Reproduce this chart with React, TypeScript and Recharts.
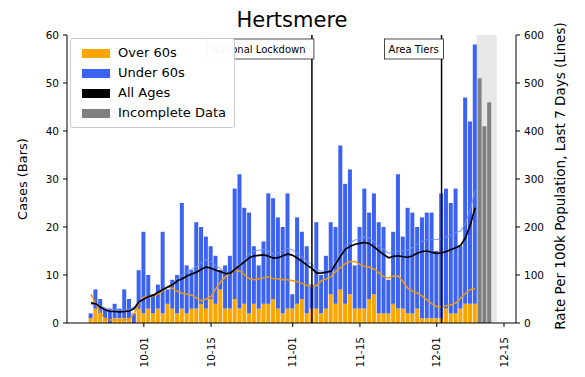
import React from 'react';
import {
  ComposedChart, Bar, Line, XAxis, YAxis, ReferenceLine, ReferenceArea, Legend, Customized,
} from 'recharts';

// Day offsets are counted from 1 October (day 0).
const FIRST_DAY = -11;

const over60Cases = [
  1, 3, 2, 1, 0, 1, 1, 1, 1, 0, 3,
  2, 3, 2, 3, 2, 4, 3, 2, 3, 2,
  3, 3, 4, 3, 5, 4, 7, 3, 3, 5,
  3, 4, 2, 4, 3, 4, 4, 5, 3, 2,
  3, 3, 4, 5, 2, 3, 3, 2, 3, 6,
  4, 7, 4, 6, 3, 3, 3, 5, 6, 2,
  2, 2, 4, 3, 3, 2, 2, 3, 1, 1,
  1, 1, 1, 3, 2, 2, 3, 4, 4, 4,
];

const under60Cases = [
  1, 4, 3, 2, 3, 3, 2, 6, 4, 2, 8,
  17, 7, 4, 5, 17, 3, 6, 8, 22, 10,
  8, 18, 16, 15, 11, 10, 4, 9, 11, 23,
  28, 20, 21, 12, 9, 13, 23, 21, 19, 18,
  24, 3, 18, 14, 14, 5, 18, 8, 11, 15,
  16, 30, 25, 26, 9, 17, 25, 18, 21, 19,
  18, 7, 15, 28, 15, 22, 21, 17, 21, 22,
  22, 14, 26, 25, 23, 26, 13, 43, 38, 54,
];

const incompleteCases = [51, 41, 46];

const rateAllAges = [
  42, 40, 33, 27, 24, 24, 23, 24, 25, 30, 44,
  50, 55, 58, 64, 70, 75, 80, 88, 92, 98,
  102, 106, 112, 117, 114, 110, 107, 103, 104, 112,
  120, 128, 136, 140, 141, 142, 139, 135, 136, 140,
  144, 141, 135, 128, 120, 114, 104, 104, 106, 108,
  124, 140, 154, 160, 164, 166, 168, 165, 158, 150,
  142, 136, 139, 140, 138, 137, 140, 146, 149, 150,
  147, 145, 146, 149, 153, 157, 162, 178, 205, 240,
];

const rateOver60 = [
  60, 40, 20, 8, 6, 6, 6, 6, 8, 20, 42,
  54, 55, 56, 60, 68, 76, 72, 66, 62, 60,
  58, 52, 46, 50, 55, 72, 86, 96, 104, 110,
  108, 100, 92, 90, 92, 94, 96, 92, 92, 90,
  90, 88, 86, 82, 78, 76, 78, 88, 92, 96,
  108, 116, 124, 128, 128, 122, 118, 116, 112, 104,
  96, 94, 98, 98, 86, 72, 66, 62, 56, 48,
  40, 34, 34, 36, 38, 42, 52, 62, 70, 72,
];

const rateUnder60 = [
  38, 40, 36, 31, 28, 28, 27, 28, 29, 33, 45,
  50, 55, 58, 65, 70, 75, 82, 93, 100, 107,
  112, 118, 126, 132, 128, 120, 113, 104, 104, 112,
  123, 134, 145, 150, 152, 153, 149, 144, 146, 151,
  156, 152, 145, 137, 128, 122, 110, 108, 109, 111,
  128, 146, 162, 168, 173, 176, 180, 177, 169, 161,
  153, 145, 148, 150, 150, 152, 157, 165, 170, 174,
  174, 174, 175, 179, 184, 188, 192, 208, 238, 276,
];

const tickDays = [0, 14, 31, 45, 61, 75];
const tickLabels = ['10-01', '10-15', '11-01', '11-15', '12-01', '12-15'];

const eventDays = [35, 62];
const eventLabels = ['National Lockdown', 'Area Tiers'];
const eventBoxWidths = [107, 59];

const incompleteSpan = [69.3, 73.5];

const leftTicks = [0, 10, 20, 30, 40, 50, 60];
const rightTicks = [0, 100, 200, 300, 400, 500, 600];

const legendLabels = ['Over 60s', 'Under 60s', 'All Ages', 'Incomplete Data'];
const legendColors = ['#ffa500', '#3b62f2', '#000000', '#808080'];

const COLORS = {
  over: '#ffa500',
  under: '#3b62f2',
  gray: '#808080',
  lineAll: '#000000',
  lineOver: '#eb9a12',
  lineUnder: '#6f8cff',
};

const FONT = 'DejaVu Sans';

const data: any[] = [];
for (let i = 0; i < over60Cases.length; i++) {
  data.push({
    day: FIRST_DAY + i,
    over60: over60Cases[i],
    under60: under60Cases[i],
    rateAll: rateAllAges[i],
    rateOver: rateOver60[i],
    rateUnder: rateUnder60[i],
  });
}
for (let j = 0; j < incompleteCases.length; j++) {
  data.push({ day: FIRST_DAY + over60Cases.length + j, incomplete: incompleteCases[j] });
}

const XTick = (props: any) => {
  const { x, y, payload } = props;
  const idx = tickDays.indexOf(payload.value);
  const label = idx >= 0 ? tickLabels[idx] : '';
  return (
    <text
      x={x}
      y={y}
      transform={`rotate(-90, ${x}, ${y})`}
      textAnchor="end"
      dy="0.35em"
      fontSize={10.5}
      fontFamily={FONT}
      fill="#000"
    >
      {label}
    </text>
  );
};

const makeEventLabel = (text: string, boxW: number) => (props: any) => {
  const vb = props.viewBox || {};
  const right = vb.x + 2;
  const top = vb.y + 4;
  return (
    <g>
      <rect x={right - boxW} y={top} width={boxW} height={20} fill="#fff" stroke="#222" strokeWidth={0.8} />
      <text x={right - boxW + 4} y={top + 14} fontSize={10} fontFamily={FONT} fill="#000">
        {text}
      </text>
    </g>
  );
};

const LegendBox = () => (
  <div
    style={{
      background: 'rgba(255,255,255,0.96)',
      border: '1px solid #cccccc',
      borderRadius: 3,
      boxSizing: 'border-box',
      width: 165,
      height: 90,
      padding: '4px 0 0 11px',
      fontFamily: FONT,
      fontSize: 13,
      color: '#000',
      position: 'relative',
      zIndex: 20,
    }}
  >
    {legendLabels.map((l, i) => (
      <div key={l} style={{ display: 'flex', alignItems: 'center', height: 20 }}>
        <span style={{ display: 'inline-block', width: 28, height: 9, background: legendColors[i], marginRight: 8 }} />
        <span style={{ lineHeight: '20px' }}>{l}</span>
      </div>
    ))}
  </div>
);

const Texts = () => (
  <g fontFamily={FONT} fill="#000">
    <text x={292} y={27} fontSize={21} textAnchor="middle">Hertsmere</text>
    <text x={22} y={179} fontSize={13} textAnchor="middle" dy="0.35em" transform="rotate(-90, 22, 179)">
      Cases (Bars)
    </text>
    <text x={560} y={176} fontSize={13.5} textAnchor="middle" dy="0.35em" transform="rotate(-90, 560, 176)">
      Rate Per 100k Population, Last 7 Days (Lines)
    </text>
  </g>
);

export default function App() {
  return (
    <div style={{ position: 'absolute', left: 0, top: 0, width: 585, height: 377, background: '#fff' }}>
      <ComposedChart
        width={585}
        height={377}
        data={data}
        margin={{ top: 35, right: 0, bottom: 0, left: 0 }}
        style={{ fontFamily: FONT }}
      >
        <XAxis
          dataKey="day"
          type="number"
          domain={[-16, 77.5]}
          ticks={tickDays}
          interval={0}
          allowDataOverflow
          height={54}
          tickSize={4}
          tickMargin={10}
          tick={<XTick />}
          axisLine={{ stroke: '#000', strokeWidth: 1 }}
          tickLine={{ stroke: '#000' }}
        />
        <XAxis
          xAxisId="top"
          orientation="top"
          dataKey="day"
          type="number"
          domain={[-16, 77.5]}
          height={0}
          tick={false}
          tickLine={false}
          axisLine={{ stroke: '#000', strokeWidth: 1 }}
        />
        <YAxis
          yAxisId="left"
          domain={[0, 60]}
          ticks={leftTicks}
          width={67}
          tickSize={4}
          tickMargin={4}
          allowDataOverflow
          tick={{ fontSize: 10.5, fontFamily: FONT, fill: '#000' }}
          axisLine={{ stroke: '#000' }}
          tickLine={{ stroke: '#000' }}
        />
        <YAxis
          yAxisId="right"
          orientation="right"
          domain={[0, 600]}
          ticks={rightTicks}
          width={69}
          tickSize={4}
          tickMargin={4}
          allowDataOverflow
          tick={{ fontSize: 10.5, fontFamily: FONT, fill: '#000' }}
          axisLine={{ stroke: '#000' }}
          tickLine={{ stroke: '#000' }}
        />
        <ReferenceArea
          yAxisId="left"
          x1={incompleteSpan[0]}
          x2={incompleteSpan[1]}
          y1={0}
          y2={60}
          fill="#d0d0d0"
          fillOpacity={0.5}
          stroke="none"
          ifOverflow="hidden"
        />
        <Bar yAxisId="left" dataKey="over60" stackId="c" fill={COLORS.over} barSize={4} isAnimationActive={false} />
        <Bar yAxisId="left" dataKey="under60" stackId="c" fill={COLORS.under} barSize={4} isAnimationActive={false} />
        <Bar yAxisId="left" dataKey="incomplete" stackId="c" fill={COLORS.gray} barSize={4} isAnimationActive={false} />
        <Line yAxisId="right" dataKey="rateUnder" stroke={COLORS.lineUnder} strokeWidth={1.2} strokeOpacity={0.8} dot={false} isAnimationActive={false} connectNulls={false} />
        <Line yAxisId="right" dataKey="rateOver" stroke={COLORS.lineOver} strokeWidth={1.5} dot={false} isAnimationActive={false} connectNulls={false} />
        <Line yAxisId="right" dataKey="rateAll" stroke={COLORS.lineAll} strokeWidth={1.7} dot={false} isAnimationActive={false} connectNulls={false} />
        {eventDays.map((d, i) => (
          <ReferenceLine
            key={d}
            yAxisId="left"
            x={d}
            stroke="#000"
            strokeWidth={1.5}
            label={makeEventLabel(eventLabels[i], eventBoxWidths[i])}
          />
        ))}
        <Legend
          layout="vertical"
          align="center"
          verticalAlign="middle"
          content={<LegendBox />}
          wrapperStyle={{ position: 'absolute', left: 70, top: 38, width: 165, height: 90, zIndex: 10 }}
        />
        <Customized component={Texts} />
      </ComposedChart>
    </div>
  );
}
